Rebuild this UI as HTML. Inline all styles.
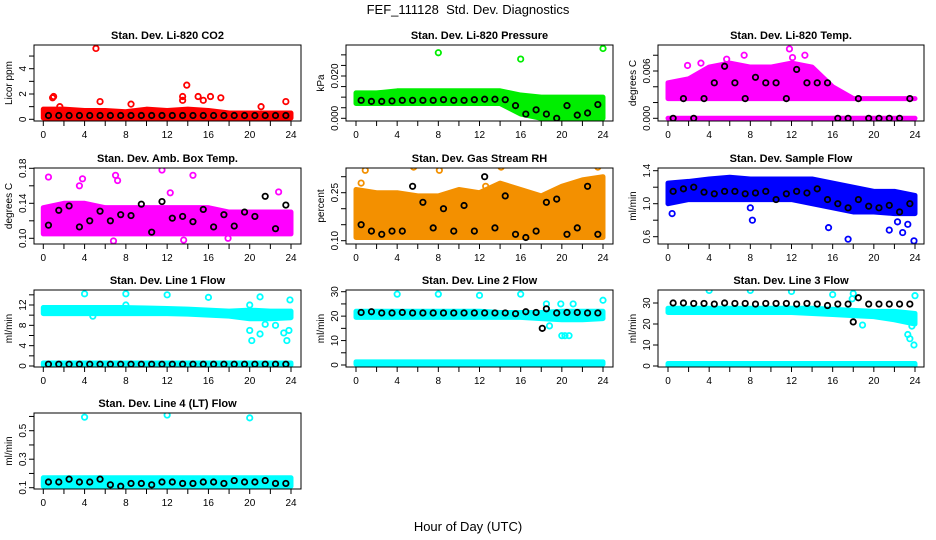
<!DOCTYPE html>
<html><head><meta charset="utf-8"><style>
body{margin:0;background:#fff;}
svg{display:block;font-family:"Liberation Sans",Helvetica,Arial,sans-serif;}
</style></head><body>
<svg id="chart" width="936" height="540" viewBox="0 0 936 540">
<text x="468" y="14" text-anchor="middle" font-size="13">FEF_111128&#160; Std. Dev. Diagnostics</text>
<text x="468" y="531" text-anchor="middle" font-size="13">Hour of Day (UTC)</text>
</svg>
<script>
const bandHours=[0,2,4,6,8,10,12,14,16,18,20,22,24];
const blackHours=[0.5,1.5,2.5,3.5,4.5,5.5,6.5,7.5,8.5,9.5,10.5,11.5,12.5,13.5,14.5,15.5,16.5,17.5,18.5,19.5,20.5,21.5,22.5,23.5];
const xTicks=[0,2,4,6,8,10,12,14,16,18,20,22,24];
const xTickLabels=[0,4,8,12,16,20,24];

const co2Lo=[0.1,0.1,0.1,0.1,0.1,0.1,0.1,0.1,0.1,0.1,0.1,0.1,0.1];
const co2Hi=[0.8,0.8,0.7,0.7,0.6,0.8,0.7,0.8,0.7,0.5,0.5,0.5,0.5];
const co2Black=[0.3,0.3,0.3,0.3,0.3,0.3,0.3,0.3,0.3,0.3,0.3,0.3,0.3,0.3,0.3,0.3,0.3,0.3,0.3,0.3,0.3,0.3,0.3,0.3];
const co2OutX=[0.9,1.0,1.6,5.1,5.5,8.5,13.5,13.5,13.9,15,15.5,16.2,17.2,21.1,23.5];
const co2OutY=[1.7,1.8,1.0,5.6,1.4,1.2,1.8,1.5,2.7,1.8,1.5,1.8,1.7,1.0,1.4];

const presLo=[0.007,0.007,0.007,0.007,0.007,0.007,0.007,0.007,0.002,0,0,0,0];
const presHi=[0.012,0.012,0.013,0.013,0.013,0.013,0.013,0.013,0.011,0.010,0.010,0.010,0.010];
const presBlack=[0.0085,0.008,0.008,0.0082,0.0085,0.0085,0.0085,0.0085,0.0088,0.0085,0.0085,0.0088,0.009,0.009,0.0088,0.006,0.002,0.004,0.002,0.0,0.006,0.0015,0.0025,0.0065];
const presOutX=[8,16,24];
const presOutY=[0.031,0.028,0.033];

const tempLo=[0.0025,0.0025,0.0025,0.0025,0.0025,0.0025,0.0025,0.0025,0.0025,0.0025,0.0025,0.0025,0.0025];
const tempHi=[0.0045,0.005,0.0065,0.007,0.0065,0.0065,0.007,0.0065,0.004,0.0025,0.0025,0.0025,0.0025];
const tempLo2=[0,0,0,0,0,0,0,0,0,0,0,0,0];
const tempHi2=[0,0,0,0,0,0,0,0,0,0,0,0,0];
const tempBlack=[0,0.0025,0,0.0025,0.0045,0.0066,0.0045,0.0025,0.0052,0.0045,0.0045,0.0025,0.0062,0.0045,0.0045,0.0045,0,0,0.0025,0,0,0,0,0.0025];
const tempOutX=[5.7,7.4,12.1,13.3,1.9,3.2,11.8];
const tempOutY=[0.0075,0.008,0.0077,0.008,0.0067,0.007,0.0088];

const ambLo=[0.105,0.105,0.105,0.105,0.105,0.105,0.105,0.105,0.105,0.105,0.105,0.105,0.105];
const ambHi=[0.135,0.14,0.14,0.135,0.135,0.135,0.135,0.135,0.135,0.13,0.13,0.13,0.13];
const ambBlack=[0.115,0.132,0.137,0.113,0.12,0.131,0.12,0.127,0.126,0.139,0.107,0.142,0.123,0.125,0.119,0.133,0.113,0.127,0.114,0.13,0.125,0.148,0.111,0.138];
const ambOutX=[0.5,3.5,3.8,7,7.2,11.5,14.5,13.6,17.9,22.8,6.8,12.3];
const ambOutY=[0.17,0.16,0.168,0.172,0.166,0.178,0.172,0.098,0.1,0.153,0.097,0.152];

const rhLo=[0.11,0.11,0.11,0.11,0.11,0.11,0.11,0.11,0.11,0.11,0.11,0.11,0.11];
const rhHi=[0.26,0.25,0.25,0.24,0.24,0.26,0.25,0.28,0.26,0.24,0.27,0.29,0.3];
const rhBlack=[0.15,0.13,0.12,0.13,0.13,0.27,0.22,0.14,0.20,0.13,0.21,0.13,0.30,0.14,0.24,0.12,0.11,0.13,0.22,0.23,0.12,0.14,0.27,0.12];
const rhOutX=[0.5,0.9,3.6,5.6,8.1,12.6,14.1,15.6,16.6,18.9,21.3,23.5];
const rhOutY=[0.28,0.32,0.36,0.33,0.32,0.27,0.33,0.34,0.355,0.34,0.37,0.33];

const flowLo=[1.0,1.05,1.05,1.05,1.05,1.05,1.05,1.0,0.95,0.9,0.9,0.88,0.88];
const flowHi=[1.25,1.27,1.3,1.32,1.3,1.3,1.3,1.3,1.25,1.2,1.15,1.15,1.1];
const flowBlack=[1.15,1.18,1.2,1.14,1.12,1.15,1.15,1.12,1.13,1.15,1.05,1.12,1.15,1.13,1.18,1.05,1.0,0.95,1.05,0.97,0.95,0.98,0.9,1.0];
const flowOutX=[0.4,8.0,8.2,15.6,17.5,21.5,22.8,23.3,23.9,22.3];
const flowOutY=[0.88,0.95,0.8,0.71,0.57,0.68,0.65,0.75,0.55,0.78];

const l1Lo=[10.3,10.3,10.3,10.3,10.3,10.3,10.3,10.2,10.0,9.8,9.3,9.3,9.5];
const l1Hi=[11.5,11.5,11.5,11.5,11.5,11.4,11.3,11.2,11.0,10.8,11.0,10.8,10.8];
const l1Lo2=[0.2,0.2,0.2,0.2,0.2,0.2,0.2,0.2,0.2,0.2,0.2,0.2,0.2];
const l1Hi2=[0.6,0.6,0.6,0.6,0.6,0.6,0.6,0.6,0.6,0.6,0.6,0.6,0.6];
const l1Black=[0.35,0.35,0.35,0.35,0.35,0.35,0.35,0.35,0.35,0.35,0.35,0.35,0.35,0.35,0.35,0.35,0.35,0.35,0.35,0.35,0.35,0.35,0.35,0.35];
const l1OutX=[4,8,12,16,21,20,20.2,21.0,21.5,22.5,23.3,23.6,23.8,23.9,20,8,4.8];
const l1OutY=[14.2,14.2,14.0,13.5,13.6,7.0,5.0,6.3,8.2,8.0,6.5,5.0,7.0,13.0,12.0,12.0,9.8];

const l2Lo=[19.5,19.5,19.5,19.5,19.5,19.5,19.5,19.5,19.5,19.0,18.5,18.5,19.0];
const l2Hi=[22,22,22,22,22,22,22,21.5,21.5,21.5,22,22,22];
const l2Lo2=[0.3,0.3,0.3,0.3,0.3,0.3,0.3,0.3,0.3,0.3,0.3,0.3,0.3];
const l2Hi2=[1.3,1.3,1.3,1.3,1.3,1.3,1.3,1.3,1.3,1.3,1.3,1.3,1.3];
const l2Black=[21.5,21.8,21.3,21.3,21.5,21.3,21.3,21.3,21.3,21.3,21.3,21.3,21.3,21.3,21.3,21.0,21.8,21.5,23.0,21.3,21.5,21.5,21.3,21.3];
const l2ExtraX=[18.1];
const l2ExtraY=[15];
const l2OutX=[4,8,12,16,24,20,20.3,20.7,19.9,21.1,18.5,18.8];
const l2OutY=[29,29,28.5,29,26.5,12,12,12,25,25,25,16];

const l3Lo=[25.5,25.5,25.5,25.5,25.5,25.5,25.5,25.0,24.5,24,23.5,22,20];
const l3Hi=[27.5,27.5,27.5,27.5,27.5,27.5,27.5,27.5,27,26.5,26,26,25];
const l3Lo2=[0,0,0,0,0,0,0,0,0,0,0,0,0];
const l3Hi2=[1.2,1.2,1.2,1.2,1.2,1.2,1.2,1.2,1.2,1.2,1.2,1.2,1.2];
const l3Black=[30,30,29.8,29.8,29.5,30,29.8,29.8,29.5,29.8,29.8,29.8,29.5,29.8,29.5,28.8,29.5,29.5,32.5,29.5,29.5,29.5,29.5,29.5];
const l3ExtraX=[18];
const l3ExtraY=[21];
const l3OutX=[4,8,12,16,18,17.9,18.9,23.3,23.5,23.7,23.9,24];
const l3OutY=[36,36,35.5,34,34.5,32,19.5,15,13,19,10,33.5];

const l4Lo=[0.11,0.11,0.11,0.11,0.11,0.11,0.11,0.11,0.11,0.11,0.11,0.11,0.11];
const l4Hi=[0.17,0.17,0.17,0.17,0.17,0.17,0.17,0.17,0.17,0.17,0.17,0.17,0.17];
const l4Black=[0.14,0.14,0.16,0.14,0.14,0.16,0.12,0.11,0.13,0.13,0.12,0.14,0.14,0.13,0.13,0.14,0.14,0.13,0.15,0.14,0.14,0.15,0.13,0.13];
const l4OutX=[4,12,20];
const l4OutY=[0.595,0.61,0.59];

const panels=[
 {name:"co2",title:"Stan. Dev. Li-820 CO2",ylab:"Licor ppm",col:0,row:0,color:"#ff0000",yref:[0,119.3,4,68.7],yt:[0,1,2,3,4,5],yl:["0","2","4"],ylv:[0,2,4],bands:[[co2Lo,co2Hi]],black:co2Black,ox:co2OutX,oy:co2OutY},
 {name:"pressure",title:"Stan. Dev. Li-820 Pressure",ylab:"kPa",col:1,row:0,color:"#00ee00",yref:[0,118.3,0.02,76],yt:[0,0.005,0.01,0.015,0.02,0.025,0.03],yl:["0.000","0.020"],ylv:[0,0.02],bands:[[presLo,presHi]],black:presBlack,ox:presOutX,oy:presOutY},
 {name:"li820-temp",title:"Stan. Dev. Li-820 Temp.",ylab:"degrees C",col:2,row:0,color:"#ff00ff",yref:[0,118.3,0.006,71],yt:[0,0.002,0.004,0.006,0.008],yl:["0.000","0.006"],ylv:[0,0.006],bands:[[tempLo,tempHi],[tempLo2,tempHi2]],black:tempBlack,ox:tempOutX,oy:tempOutY},
 {name:"amb-box-temp",title:"Stan. Dev. Amb. Box Temp.",ylab:"degrees C",col:0,row:1,color:"#ff00ff",yref:[0.1,238.3,0.18,168.3],yt:[0.1,0.12,0.14,0.16,0.18],yl:["0.10","0.14","0.18"],ylv:[0.1,0.14,0.18],bands:[[ambLo,ambHi]],black:ambBlack,ox:ambOutX,oy:ambOutY},
 {name:"gas-stream-rh",title:"Stan. Dev. Gas Stream RH",ylab:"percent",col:1,row:1,color:"#f39000",yref:[0.1,240.7,0.25,192.7],yt:[0.1,0.15,0.2,0.25,0.3],yl:["0.10","0.25"],ylv:[0.1,0.25],bands:[[rhLo,rhHi]],black:rhBlack,ox:rhOutX,oy:rhOutY},
 {name:"sample-flow",title:"Stan. Dev. Sample Flow",ylab:"ml/min",col:2,row:1,color:"#0000ff",yref:[0.6,236.7,1.4,170.7],yt:[0.6,0.8,1.0,1.2,1.4],yl:["0.6","1.0","1.4"],ylv:[0.6,1.0,1.4],bands:[[flowLo,flowHi]],black:flowBlack,ox:flowOutX,oy:flowOutY},
 {name:"line1-flow",title:"Stan. Dev. Line 1 Flow",ylab:"ml/min",col:0,row:2,color:"#00ffff",yref:[0,366,12,305],yt:[0,2,4,6,8,10,12,14],yl:["0","4","8","12"],ylv:[0,4,8,12],bands:[[l1Lo,l1Hi],[l1Lo2,l1Hi2]],black:l1Black,ox:l1OutX,oy:l1OutY},
 {name:"line2-flow",title:"Stan. Dev. Line 2 Flow",ylab:"ml/min",col:1,row:2,color:"#00ffff",yref:[0,365,30,291.7],yt:[0,5,10,15,20,25,30],yl:["0","10","20","30"],ylv:[0,10,20,30],bands:[[l2Lo,l2Hi],[l2Lo2,l2Hi2]],black:l2Black,bx:l2ExtraX,by:l2ExtraY,ox:l2OutX,oy:l2OutY},
 {name:"line3-flow",title:"Stan. Dev. Line 3 Flow",ylab:"ml/min",col:2,row:2,color:"#00ffff",yref:[0,366,30,303],yt:[0,10,20,30],yl:["0","10","20","30"],ylv:[0,10,20,30],bands:[[l3Lo,l3Hi],[l3Lo2,l3Hi2]],black:l3Black,bx:l3ExtraX,by:l3ExtraY,ox:l3OutX,oy:l3OutY},
 {name:"line4-flow",title:"Stan. Dev. Line 4 (LT) Flow",ylab:"ml/min",col:0,row:3,color:"#00ffff",yref:[0.1,487.7,0.5,430.7],yt:[0.1,0.2,0.3,0.4,0.5,0.6],yl:["0.1","0.3","0.5"],ylv:[0.1,0.3,0.5],bands:[[l4Lo,l4Hi]],black:l4Black,ox:l4OutX,oy:l4OutY}
];
const colX=[[34,301,43.3,291],[346,613,356,603],[658,924,668,915]];
const rowY=[[45,121],[168,244],[290,367],[413,489]];
const NS="http://www.w3.org/2000/svg";
const svg=document.getElementById('chart');
function mk(tag,attrs,parent){const e=document.createElementNS(NS,tag);for(const k in attrs)e.setAttribute(k,attrs[k]);parent.appendChild(e);return e;}

panels.forEach(p=>{
  const [bl,br,x0,x24]=colX[p.col];const [bt,bb]=rowY[p.row];
  const sx=v=>x0+(x24-x0)*v/24;
  const sy=v=>p.yref[1]+(v-p.yref[0])*(p.yref[3]-p.yref[1])/(p.yref[2]-p.yref[0]);
  const g=mk('g',{},svg);
  
  
  const clipId='clip-'+p.name;
  const cp=mk('clipPath',{id:clipId},g);mk('rect',{x:bl,y:bt,width:br-bl,height:bb-bt},cp);
  const t=mk('text',{x:(bl+br)/2,y:bt-6,'text-anchor':'middle','font-size':11,'font-weight':'bold'},g);t.textContent=p.title;
  
  
  const yl=mk('text',{x:0,y:0,'text-anchor':'middle','font-size':10,transform:`translate(${bl-22},${(bt+bb)/2}) rotate(-90)`},g);yl.textContent=p.ylab;
  
  
  const plot=mk('g',{'clip-path':`url(#${clipId})`},g);
  
  
  p.bands.forEach(([lo,hi])=>{
    let pts=bandHours.map((h,i)=>sx(h)+','+sy(hi[i]));
    for(let i=bandHours.length-1;i>=0;i--)pts.push(sx(bandHours[i])+','+sy(lo[i]));
    const b=mk('polygon',{points:pts.join(' '),fill:p.color,stroke:p.color,'stroke-width':5,'stroke-linejoin':'round'},plot);
    
    
  });
  p.ox.forEach((x,i)=>{
    const c=mk('circle',{cx:sx(x),cy:sy(p.oy[i]),r:2.7,fill:'none',stroke:p.color,'stroke-width':1.8},plot);
    
    
  });
  p.black.forEach((v,i)=>{
    const c=mk('circle',{cx:sx(blackHours[i]),cy:sy(v),r:2.7,fill:'none',stroke:'#000','stroke-width':1.8},plot);
    
    
  });
  (p.bx||[]).forEach((x,i)=>{
    const c=mk('circle',{cx:sx(x),cy:sy(p.by[i]),r:2.7,fill:'none',stroke:'#000','stroke-width':1.8},plot);
    
    
  });
  const box=mk('rect',{x:bl,y:bt,width:br-bl,height:bb-bt,fill:'none',stroke:'#000','stroke-width':1},g);
  
  
  xTicks.forEach(v=>{mk('line',{x1:sx(v),x2:sx(v),y1:bb,y2:bb+5,stroke:'#000'},g);});
  xTickLabels.forEach(v=>{const tt=mk('text',{x:sx(v),y:bb+17,'text-anchor':'middle','font-size':10},g);tt.textContent=v;
    
    });
  p.yt.forEach(v=>{mk('line',{x1:bl-5,x2:bl,y1:sy(v),y2:sy(v),stroke:'#000'},g);});
  p.ylv.forEach((v,i)=>{const tt=mk('text',{x:0,y:0,'text-anchor':'middle','font-size':10,transform:`translate(${bl-8},${sy(v)}) rotate(-90)`},g);tt.textContent=p.yl[i];
    
    });
});
</script>
</body></html>
